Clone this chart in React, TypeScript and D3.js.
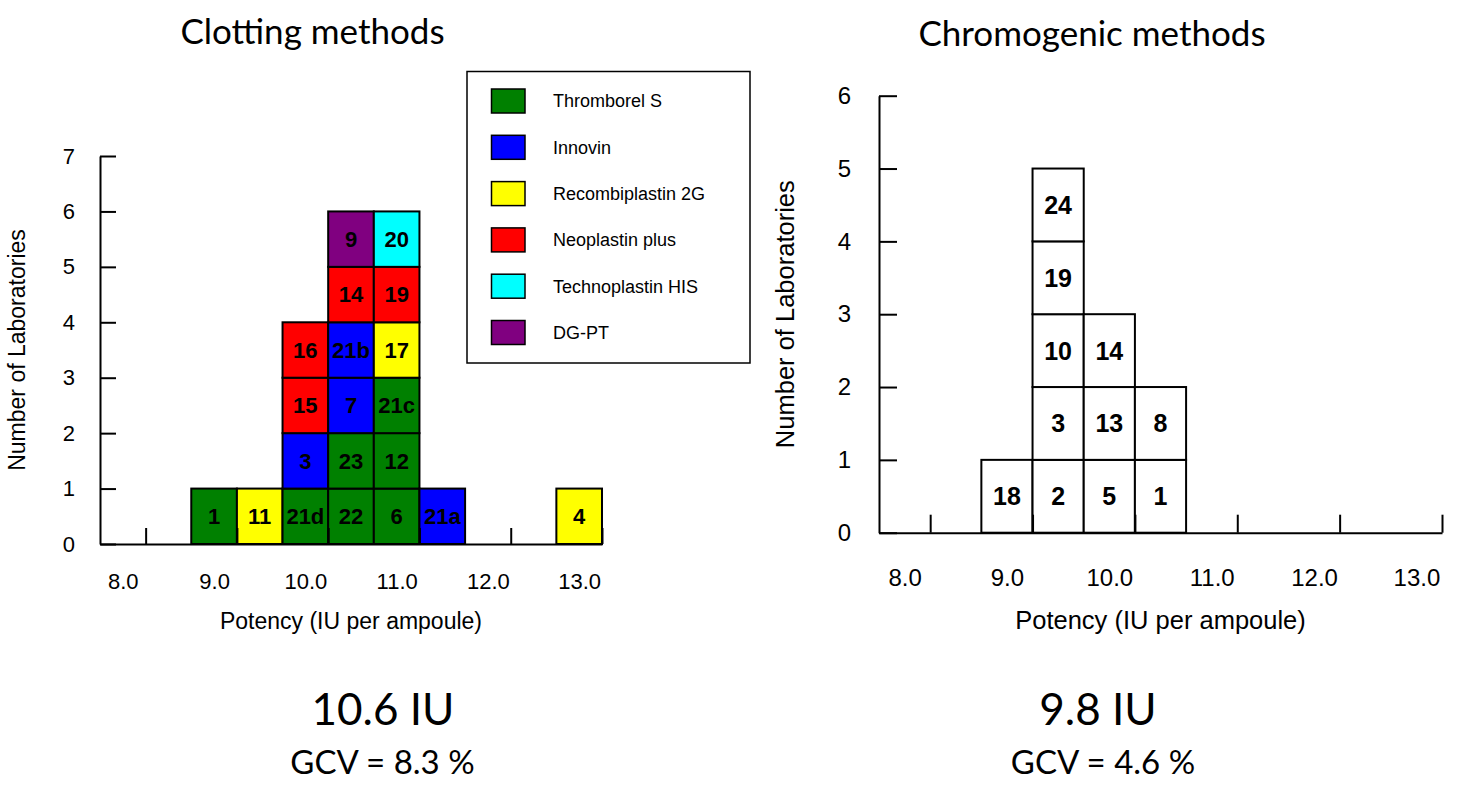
import { useEffect, useRef } from "react";
import { axisBottom, axisLeft, format, range, scaleLinear, scalePoint, select } from "d3";
import type { ScaleLinear } from "d3";

// reagents used by the clotting labs
const methods = [
  "Thromborel S",
  "Innovin",
  "Recombiplastin 2G",
  "Neoplastin plus",
  "Technoplastin HIS",
  "DG-PT"
];
const methodColors = ["#008000", "#0000ff", "#ffff00", "#ff0000", "#00ffff", "#800080"];

// clotting methods: one entry per lab, stacked bottom to top in this order
const clottingLabs = ["1", "11", "21d", "3", "15", "16", "22", "23", "7", "21b", "14", "9", "6", "12", "21c", "17", "19", "20", "21a", "4"];
const clottingPotency = [9.0, 9.5, 10.0, 10.0, 10.0, 10.0, 10.5, 10.5, 10.5, 10.5, 10.5, 10.5, 11.0, 11.0, 11.0, 11.0, 11.0, 11.0, 11.5, 13.0];
const clottingMethod = [
  "Thromborel S", "Recombiplastin 2G", "Thromborel S", "Innovin", "Neoplastin plus", "Neoplastin plus",
  "Thromborel S", "Thromborel S", "Innovin", "Innovin", "Neoplastin plus", "DG-PT",
  "Thromborel S", "Thromborel S", "Thromborel S", "Recombiplastin 2G", "Neoplastin plus", "Technoplastin HIS",
  "Innovin", "Recombiplastin 2G"
];

// chromogenic methods
const chromogenicLabs = ["18", "2", "3", "10", "19", "24", "5", "13", "14", "1", "8"];
const chromogenicPotency = [9.0, 9.5, 9.5, 9.5, 9.5, 9.5, 10.0, 10.0, 10.0, 10.5, 10.5];

const potencyLabels = [8, 9, 10, 11, 12, 13];
const binEdges = [8.25, 9.25, 10.25, 11.25, 12.25, 13.25];
const potencyDomain = [7.75, 13.25];
const halfBin = 0.25;

const titles = ["Clotting methods", "Chromogenic methods"];
const summaryPotency = ["10.6 IU", "9.8 IU"];
const summaryGcv = ["GCV = 8.3 %", "GCV = 4.6 %"];

const AXIS_FONT = "'Liberation Sans', Arial, sans-serif";
const TITLE_FONT = "Lato, 'Open Sans', sans-serif";

function stackLevels(potency: number[]) {
  const seen = new Map<number, number>();
  return potency.map((p) => {
    const n = seen.get(p) ?? 0;
    seen.set(p, n + 1);
    return n;
  });
}

interface PanelProps {
  xRange: [number, number];
  yRange: [number, number];
  yMax: number;
  labs: string[];
  potency: number[];
  fills: string[];
  tickFont: number;
  titleFont: number;
  barFont: number;
  tickLen: number;
  yPad: number;
  xPad: number;
  yTitleX: number;
  xTitleY: number;
}

function styleAxis(g: any, fontSize: number) {
  g.attr("font-size", fontSize).attr("font-family", AXIS_FONT);
  g.selectAll("line").attr("stroke", "#000").attr("stroke-width", 2);
  g.selectAll("path").attr("stroke", "#000").attr("stroke-width", 2);
  g.selectAll("text").attr("fill", "#000");
}

function XAxis({ scale, y, tickLen, pad, fontSize }: { scale: ScaleLinear<number, number>; y: number; tickLen: number; pad: number; fontSize: number }) {
  const marks = useRef<SVGGElement>(null);
  const labels = useRef<SVGGElement>(null);

  useEffect(() => {
    if (marks.current) {
      const g = select(marks.current);
      g.call(axisBottom(scale).tickValues(binEdges).tickSize(-tickLen).tickSizeOuter(0).tickFormat(() => ""));
      styleAxis(g, fontSize);
    }
    if (labels.current) {
      const g = select(labels.current);
      g.call(axisBottom(scale).tickValues(potencyLabels).tickSize(0).tickPadding(pad).tickFormat(format(".1f")));
      g.select(".domain").remove();
      styleAxis(g, fontSize);
    }
  }, [scale, tickLen, pad, fontSize]);

  return (
    <>
      <g ref={labels} transform={`translate(0, ${y})`} />
      <g ref={marks} transform={`translate(0, ${y})`} />
    </>
  );
}

function YAxis({ scale, x, yMax, tickLen, pad, fontSize }: { scale: ScaleLinear<number, number>; x: number; yMax: number; tickLen: number; pad: number; fontSize: number }) {
  const ref = useRef<SVGGElement>(null);

  useEffect(() => {
    if (ref.current) {
      const g = select(ref.current);
      g.call(axisLeft(scale).tickValues(range(0, yMax + 1)).tickSize(-tickLen).tickSizeOuter(0).tickPadding(pad).tickFormat(format("d")));
      styleAxis(g, fontSize);
    }
  }, [scale, yMax, tickLen, pad, fontSize]);

  return <g ref={ref} transform={`translate(${x}, 0)`} />;
}

function Panel(props: PanelProps) {
  const { xRange, yRange, yMax, labs, potency, fills, tickFont, titleFont, barFont, tickLen, yPad, xPad, yTitleX, xTitleY } = props;
  const x = scaleLinear().domain(potencyDomain).range(xRange);
  const y = scaleLinear().domain([0, yMax]).range(yRange);
  const levels = stackLevels(potency);

  return (
    <g>
      {labs.map((lab, i) => {
        const x0 = x(potency[i] - halfBin);
        const x1 = x(potency[i] + halfBin);
        const y0 = y(levels[i]);
        const y1 = y(levels[i] + 1);
        return (
          <g key={`cell-${lab}-${i}`}>
            <rect x={x0} y={y1} width={x1 - x0} height={y0 - y1} fill={fills[i]} stroke="#000" strokeWidth={2} />
            <text
              x={(x0 + x1) / 2}
              y={(y0 + y1) / 2}
              dy="0.36em"
              textAnchor="middle"
              fontFamily={AXIS_FONT}
              fontWeight="bold"
              fontSize={barFont}
            >
              {lab}
            </text>
          </g>
        );
      })}
      <XAxis scale={x} y={yRange[0]} tickLen={tickLen} pad={xPad} fontSize={tickFont} />
      <YAxis scale={y} x={xRange[0]} yMax={yMax} tickLen={tickLen} pad={yPad} fontSize={tickFont} />
      <text x={(xRange[0] + xRange[1]) / 2} y={xTitleY} textAnchor="middle" fontFamily={AXIS_FONT} fontSize={titleFont}>
        Potency (IU per ampoule)
      </text>
      <text
        transform={`translate(${yTitleX}, ${(yRange[0] + yRange[1]) / 2}) rotate(-90)`}
        textAnchor="middle"
        fontFamily={AXIS_FONT}
        fontSize={titleFont}
      >
        Number of Laboratories
      </text>
    </g>
  );
}

function Legend() {
  const row = scalePoint<string>().domain(methods).range([101, 332.5]);
  return (
    <g>
      <rect x={467} y={71.5} width={283} height={291.5} fill="#fff" stroke="#000" strokeWidth={1.5} />
      {methods.map((m, i) => (
        <g key={m} transform={`translate(0, ${row(m)})`}>
          <rect x={491.5} y={-12} width={33.5} height={24} fill={methodColors[i]} stroke="#000" strokeWidth={1.5} />
          <text x={553} y={0} dy="0.36em" fontFamily={AXIS_FONT} fontSize={18}>
            {m}
          </text>
        </g>
      ))}
    </g>
  );
}

export default function App() {
  const clottingFills = clottingMethod.map((m) => methodColors[methods.indexOf(m)]);
  const chromogenicFills = chromogenicLabs.map(() => "#fff");

  return (
    <svg
      width={1474}
      height={809}
      style={{ position: "absolute", left: 0, top: 0, background: "#fff" }}
    >
      <rect width={1474} height={809} fill="#fff" />
      <Panel
        xRange={[100, 602]}
        yRange={[544, 156]}
        yMax={7}
        labs={clottingLabs}
        potency={clottingPotency}
        fills={clottingFills}
        tickFont={22}
        titleFont={23}
        barFont={22}
        tickLen={16}
        yPad={25}
        xPad={29}
        yTitleX={25}
        xTitleY={629}
      />
      <Legend />
      <Panel
        xRange={[879, 1442]}
        yRange={[532.7, 95.7]}
        yMax={6}
        labs={chromogenicLabs}
        potency={chromogenicPotency}
        fills={chromogenicFills}
        tickFont={24}
        titleFont={25.5}
        barFont={25}
        tickLen={18}
        yPad={28}
        xPad={36}
        yTitleX={794}
        xTitleY={629}
      />
      {titles.map((t, i) => (
        <text key={t} x={i === 0 ? 312.5 : 1092} y={i === 0 ? 44 : 46} textAnchor="middle" fontFamily={TITLE_FONT} fontSize={35}>
          {t}
        </text>
      ))}
      {summaryPotency.map((s, i) => (
        <text key={s} x={i === 0 ? 383 : 1098} y={725} textAnchor="middle" fontFamily={TITLE_FONT} fontSize={44}>
          {s}
        </text>
      ))}
      {summaryGcv.map((s, i) => (
        <text key={s} x={i === 0 ? 382.5 : 1103} y={774} textAnchor="middle" fontFamily={TITLE_FONT} fontSize={33}>
          {s}
        </text>
      ))}
    </svg>
  );
}
